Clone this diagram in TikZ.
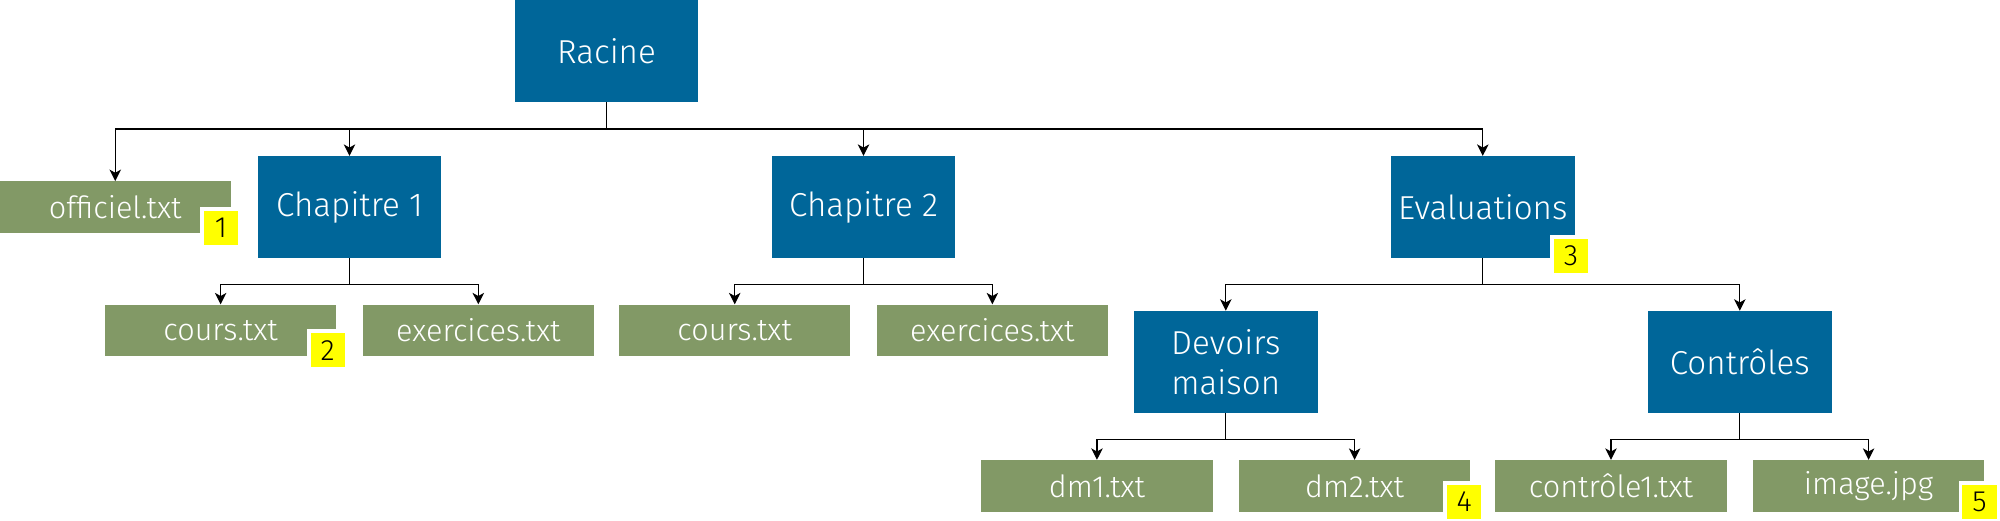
\documentclass[tikz,border=0pt]{standalone}
\usepackage{fontspec}
\setmainfont{Fira Sans}[UprightFont={* Light}]
\usepackage{tikz}
\usetikzlibrary{positioning,arrows.meta}
\definecolor{bleudossier}{RGB}{0,102,153}
\definecolor{vertfichier}{RGB}{130,153,102}
\definecolor{jaunerepere}{RGB}{255,255,0}

\begin{document}
\begin{tikzpicture}[x=1pt, y=1pt, node distance=41pt,
        every node/.style={font=\fontsize{26}{31.5}\selectfont},
        dossier/.style={rectangle, fill=bleudossier, text=white, minimum width=144pt, minimum height=80pt, inner sep=0pt, align=center},
        fichier/.style={rectangle, fill=vertfichier, text=white, minimum width=181.5pt, minimum height=40.5pt, inner sep=0pt, font=\fontsize{24}{29}\selectfont},
        repere/.style={rectangle, fill=jaunerepere, draw=white, line width=3pt, minimum size=30pt, inner sep=0pt, text=black, font=\fontsize{23}{28}\selectfont},
        lien/.style={->, >={Stealth[length=9pt,width=9pt,inset=2.5pt]}, line width=1pt}]
        \useasboundingbox (0,0) rectangle (1568,-408);

        \node[dossier] (racine) at (475.5,-40) {Racine};
        \node[dossier, below=42pt of racine, xshift=-201.5pt] (chap1) {Chapitre 1};
        \node[dossier, below=42pt of racine, xshift=201.5pt] (chap2) {Chapitre 2};
        \node[dossier, below=42pt of racine, xshift=687pt] (eval) {Evaluations};
        \node[fichier, left=20.5pt of chap1] (officiel) {officiel.txt};

        \node[fichier, below=36pt of chap1, xshift=-101pt] (cours1) {cours.txt};
        \node[fichier, below=36pt of chap1, xshift=101pt] (exos1) {exercices.txt};
        \node[fichier, below=36pt of chap2, xshift=-101pt] (cours2) {cours.txt};
        \node[fichier, below=36pt of chap2, xshift=101pt] (exos2) {exercices.txt};

        \node[dossier, below=of eval, xshift=-201.5pt] (devoirs) {Devoirs\\maison};
        \node[dossier, below=of eval, xshift=201.5pt] (controles) {Contrôles};

        \node[fichier, below=36.5pt of devoirs, xshift=-101pt] (dm1) {dm1.txt};
        \node[fichier, below=36.5pt of devoirs, xshift=101pt] (dm2) {dm2.txt};
        \node[fichier, below=36.5pt of controles, xshift=-101pt] (ctrl1) {contrôle1.txt};
        \node[fichier, below=36.5pt of controles, xshift=101pt] (image) {image.jpg};

        % reperes jaunes
        \node[repere] (rep1) at ([xshift=-8pt,yshift=4pt]officiel.south east) {1};
        \node[repere] (rep2) at ([xshift=-7pt,yshift=5pt]cours1.south east) {2};
        \node[repere] (rep3) at ([xshift=-3pt,yshift=2pt]eval.south east) {3};
        \node[repere] (rep4) at ([xshift=-5pt,yshift=8pt]dm2.south east) {4};
        \node[repere] (rep5) at ([xshift=-4pt,yshift=8pt]image.south east) {5};

        % liens
        \foreach \fils in {officiel,chap1,chap2,eval}
            \draw[lien] (racine.south) -- ++(0,-21) -| (\fils.north);
        \foreach \pere/\fils in {chap1/cours1,chap1/exos1,chap2/cours2,chap2/exos2,eval/devoirs,eval/controles,devoirs/dm1,devoirs/dm2,controles/ctrl1,controles/image}
            \draw[lien] (\pere.south) -- ++(0,-20.5) -| (\fils.north);
    \end{tikzpicture}
\end{document}
